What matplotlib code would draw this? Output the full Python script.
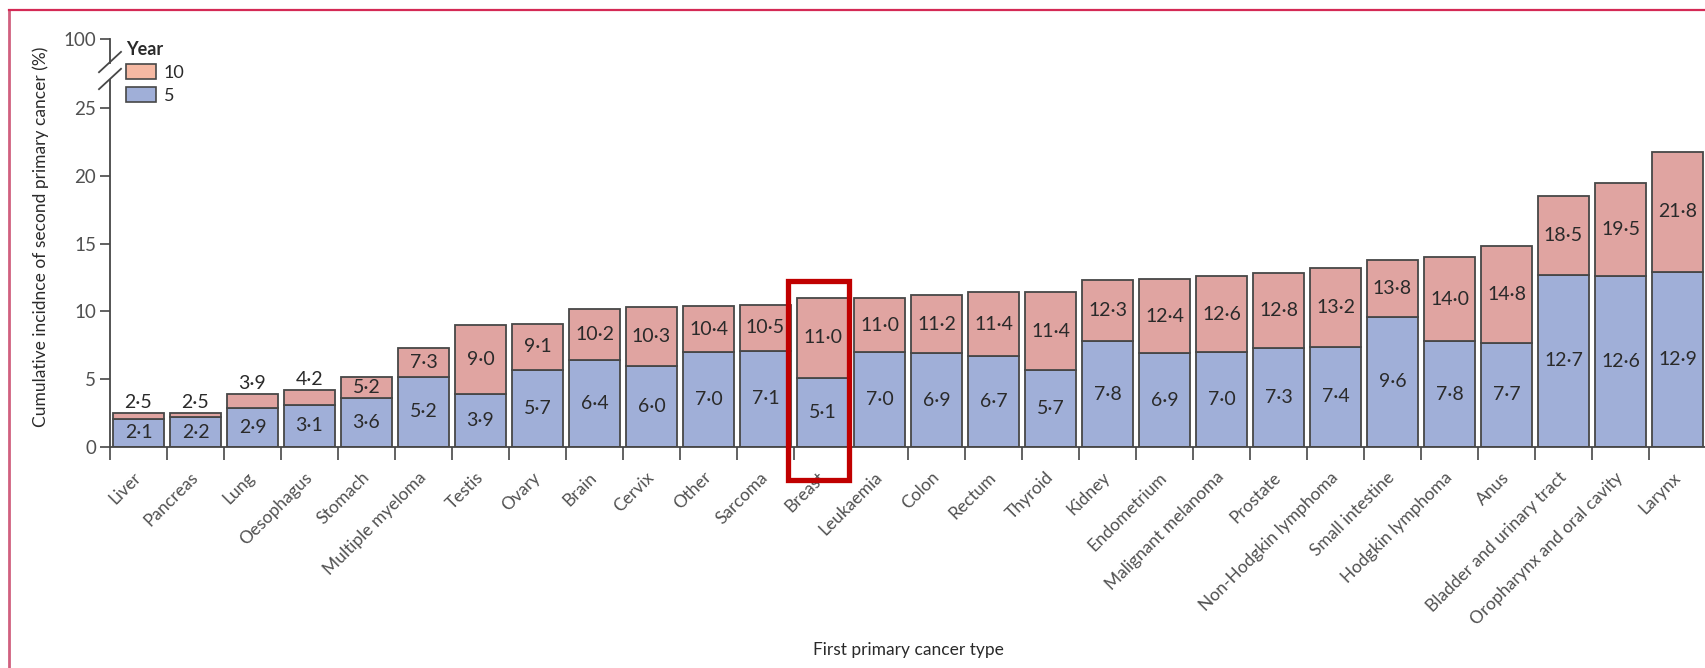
import numpy as np
import matplotlib.pyplot as plt
from matplotlib.patches import Patch, Rectangle
from matplotlib.lines import Line2D

plt.rcParams['font.family'] = ['Lato', 'DejaVu Sans']

# First primary cancer types, ordered by 10-year cumulative incidence
cancers = ["Liver", "Pancreas", "Lung", "Oesophagus", "Stomach", "Multiple myeloma",
           "Testis", "Ovary", "Brain", "Cervix", "Other", "Sarcoma", "Breast",
           "Leukaemia", "Colon", "Rectum", "Thyroid", "Kidney", "Endometrium",
           "Malignant melanoma", "Prostate", "Non-Hodgkin lymphoma", "Small intestine",
           "Hodgkin lymphoma", "Anus", "Bladder and urinary tract",
           "Oropharynx and oral cavity", "Larynx"]

# Cumulative incidence (%) of a second primary cancer at 5 and 10 years
five_year = [2.1, 2.2, 2.9, 3.1, 3.6, 5.2, 3.9, 5.7, 6.4, 6.0, 7.0, 7.1, 5.1, 7.0,
             6.9, 6.7, 5.7, 7.8, 6.9, 7.0, 7.3, 7.4, 9.6, 7.8, 7.7, 12.7, 12.6, 12.9]
ten_year = [2.5, 2.5, 3.9, 4.2, 5.2, 7.3, 9.0, 9.1, 10.2, 10.3, 10.4, 10.5, 11.0, 11.0,
            11.2, 11.4, 11.4, 12.3, 12.4, 12.6, 12.8, 13.2, 13.8, 14.0, 14.8, 18.5, 19.5, 21.8]

highlight = "Breast"

blue = "#a0afd8"
pink = "#e0a4a1"
legend_pink = "#f6b9a3"
edge = "#474747"
text_col = "#2a2a2a"
tick_col = "#505050"


def fmt(v):
    return f"{v:.1f}".replace(".", "\u00b7")


fig = plt.figure(figsize=(17.06, 6.68), dpi=100)
ax = fig.add_axes([110 / 1706, 221 / 668, 1596 / 1706, 408 / 668])

x = np.arange(len(cancers))
five = np.array(five_year)
ten = np.array(ten_year)

ax.bar(x, five, width=0.895, color=blue, edgecolor=edge, linewidth=1.3, zorder=2)
ax.bar(x, ten - five, bottom=five, width=0.895, color=pink, edgecolor=edge,
       linewidth=1.3, zorder=2)

# value labels: 5-year in the blue part, 10-year in the pink part (or on top when too thin)
for xi, f, t in zip(x, five, ten):
    ax.text(xi, f / 2, fmt(f), ha='center', va='center', fontsize=14, color=text_col)
    if t - f < 1.3:
        ax.text(xi, t + 0.15, fmt(t), ha='center', va='bottom', fontsize=14, color=text_col)
    else:
        ax.text(xi, (f + t) / 2, fmt(t), ha='center', va='center', fontsize=14, color=text_col)

ax.set_xlim(-0.5, len(cancers) - 0.5)
ax.set_ylim(0, 30.1)

# x axis: labels under bars, tick marks between bars
ax.set_xticks(x)
ax.set_xticklabels(cancers, rotation=45, ha='right', va='center', rotation_mode='anchor',
                   fontsize=12.5, color=tick_col)
ax.tick_params(axis='x', which='major', length=0, pad=20)
ax.set_xticks(np.arange(len(cancers)) - 0.5, minor=True)
ax.tick_params(axis='x', which='minor', length=9, width=1.2, color=edge, direction='out')

# broken y axis: 0-25 linear, then jump to 100
ax.set_yticks([0, 5, 10, 15, 20, 25, 30.1])
ax.set_yticklabels(["0", "5", "10", "15", "20", "25", "100"], fontsize=13.5, color=tick_col)
ax.tick_params(axis='y', length=7, width=1.2, color=edge, pad=3)

for side in ['top', 'right', 'left']:
    ax.spines[side].set_visible(False)
ax.spines['bottom'].set_color(edge)
ax.spines['bottom'].set_linewidth(1.3)

bt = ax.get_yaxis_transform()
ax.add_line(Line2D([0, 0], [0, 27.1], transform=bt, color=edge, lw=1.3, clip_on=False))
ax.add_line(Line2D([0, 0], [28.35, 30.1], transform=bt, color=edge, lw=1.3, clip_on=False))
sx = 11 / 1596
for yc in [28.4, 27.15]:
    ax.add_line(Line2D([-sx, sx], [yc - 0.75, yc + 0.75], transform=bt, color=edge,
                       lw=1.3, clip_on=False))

ax.set_ylabel("Cumulative incidnce of second primary cancer (%)", fontsize=12.5,
              color=text_col)
ax.yaxis.set_label_coords(-0.038, 0.515)
ax.set_xlabel("First primary cancer type", fontsize=12.5, color=text_col)
ax.xaxis.set_label_coords(0.5, -0.478)

handles = [Patch(facecolor=legend_pink, edgecolor=edge, linewidth=1.2, label="10"),
           Patch(facecolor=blue, edgecolor=edge, linewidth=1.2, label="5")]
leg = ax.legend(handles=handles, title="Year", loc='upper left',
                bbox_to_anchor=(14 / 1596, 1.0), frameon=False, fontsize=13,
                title_fontproperties={'weight': 'bold', 'size': 13},
                handlelength=1.7, handleheight=0.9, handletextpad=0.4,
                labelspacing=0.35, borderpad=0, borderaxespad=0.1, alignment='left')
for t in leg.get_texts():
    t.set_color(text_col)
leg.get_title().set_color(text_col)

# highlight box around one cancer type
hi = cancers.index(highlight)
ax.add_patch(Rectangle((hi - 0.61, -2.44), 1.07, 14.69, fill=False, edgecolor="#c00000",
                       linewidth=3.8, clip_on=False, zorder=5))

# page frame
fig.add_artist(Line2D([9 / 1706, 9 / 1706], [0, 1 - 10 / 668], transform=fig.transFigure,
                      color="#d0607f", lw=2))
fig.add_artist(Line2D([9 / 1706, 1], [1 - 10 / 668, 1 - 10 / 668], transform=fig.transFigure,
                      color="#d42a55", lw=1.6))

fig.savefig("out.png", dpi=100)
